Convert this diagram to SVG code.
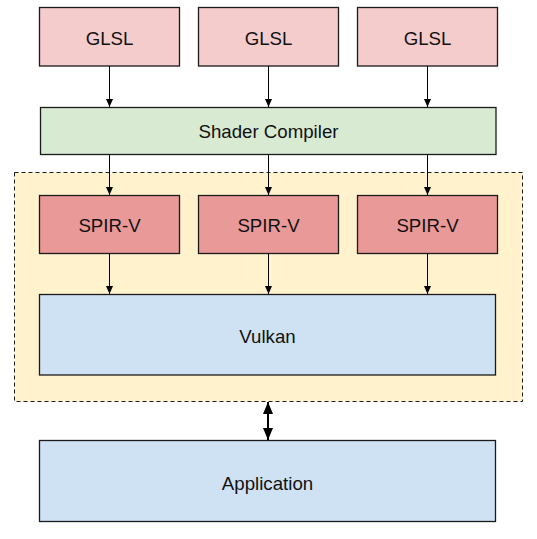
<svg xmlns="http://www.w3.org/2000/svg" width="537" height="539" viewBox="0 0 537 539">
<style>
.box{stroke:#1a1a1a;stroke-width:1.3}
.lbl{font-family:"Liberation Sans",Arial,sans-serif;font-size:18.67px;fill:#111;text-anchor:middle;dominant-baseline:central}
.con{stroke:#000;stroke-width:1;fill:none}
.con2{stroke:#000;stroke-width:2;fill:none}
</style>
<defs>
<marker id="a" viewBox="0 0 8 8" refX="8" refY="4" markerWidth="8" markerHeight="8" markerUnits="userSpaceOnUse" orient="auto">
<path d="M0,0.5 L8,4 L0,7.5 Z" fill="#000"/>
</marker>
<marker id="b" viewBox="0 0 12 10" refX="12" refY="5" markerWidth="12" markerHeight="10" markerUnits="userSpaceOnUse" orient="auto-start-reverse">
<path d="M0,0 L12,5 L0,10 Z" fill="#000"/>
</marker>
</defs>
<g id="container">
<rect x="14.5" y="172.5" width="508" height="229" fill="#fff2cc" stroke="#1a1a1a" stroke-width="1" stroke-dasharray="4,3"/>
</g>
<g id="glsl1"><rect class="box" x="39.5" y="7.5" width="140" height="58.5" fill="#f4cccc"/><text class="lbl" x="109.5" y="38">GLSL</text></g>
<g id="glsl2"><rect class="box" x="198.5" y="7.5" width="140" height="58.5" fill="#f4cccc"/><text class="lbl" x="268.5" y="38">GLSL</text></g>
<g id="glsl3"><rect class="box" x="357.5" y="7.5" width="140" height="58.5" fill="#f4cccc"/><text class="lbl" x="427.5" y="38">GLSL</text></g>
<g id="compiler"><rect class="box" x="40.5" y="107.5" width="455.5" height="47" fill="#d9ead3"/><text class="lbl" x="268.5" y="131.5">Shader Compiler</text></g>
<g id="spirv1"><rect class="box" x="39.5" y="195.5" width="140" height="58" fill="#ea9999"/><text class="lbl" x="109.5" y="225">SPIR-V</text></g>
<g id="spirv2"><rect class="box" x="198.5" y="195.5" width="140" height="58" fill="#ea9999"/><text class="lbl" x="268.5" y="225">SPIR-V</text></g>
<g id="spirv3"><rect class="box" x="357.5" y="195.5" width="140" height="58" fill="#ea9999"/><text class="lbl" x="427.5" y="225">SPIR-V</text></g>
<g id="vulkan"><rect class="box" x="39.5" y="294.5" width="456" height="80.5" fill="#cfe2f3"/><text class="lbl" x="267.5" y="336">Vulkan</text></g>
<g id="application"><rect class="box" x="39.5" y="440.5" width="456" height="81" fill="#cfe2f3"/><text class="lbl" x="267.5" y="483">Application</text></g>
<g id="connectors">
<line class="con" x1="109.5" y1="66" x2="109.5" y2="107" marker-end="url(#a)"/>
<line class="con" x1="268.5" y1="66" x2="268.5" y2="107" marker-end="url(#a)"/>
<line class="con" x1="427.5" y1="66" x2="427.5" y2="107" marker-end="url(#a)"/>
<line class="con" x1="109.5" y1="155" x2="109.5" y2="195" marker-end="url(#a)"/>
<line class="con" x1="268.5" y1="155" x2="268.5" y2="195" marker-end="url(#a)"/>
<line class="con" x1="427.5" y1="155" x2="427.5" y2="195" marker-end="url(#a)"/>
<line class="con" x1="109.5" y1="254" x2="109.5" y2="294" marker-end="url(#a)"/>
<line class="con" x1="268.5" y1="254" x2="268.5" y2="294" marker-end="url(#a)"/>
<line class="con" x1="427.5" y1="254" x2="427.5" y2="294" marker-end="url(#a)"/>
<line class="con2" x1="268" y1="402" x2="268" y2="440" marker-start="url(#b)" marker-end="url(#b)"/>
</g>
</svg>
